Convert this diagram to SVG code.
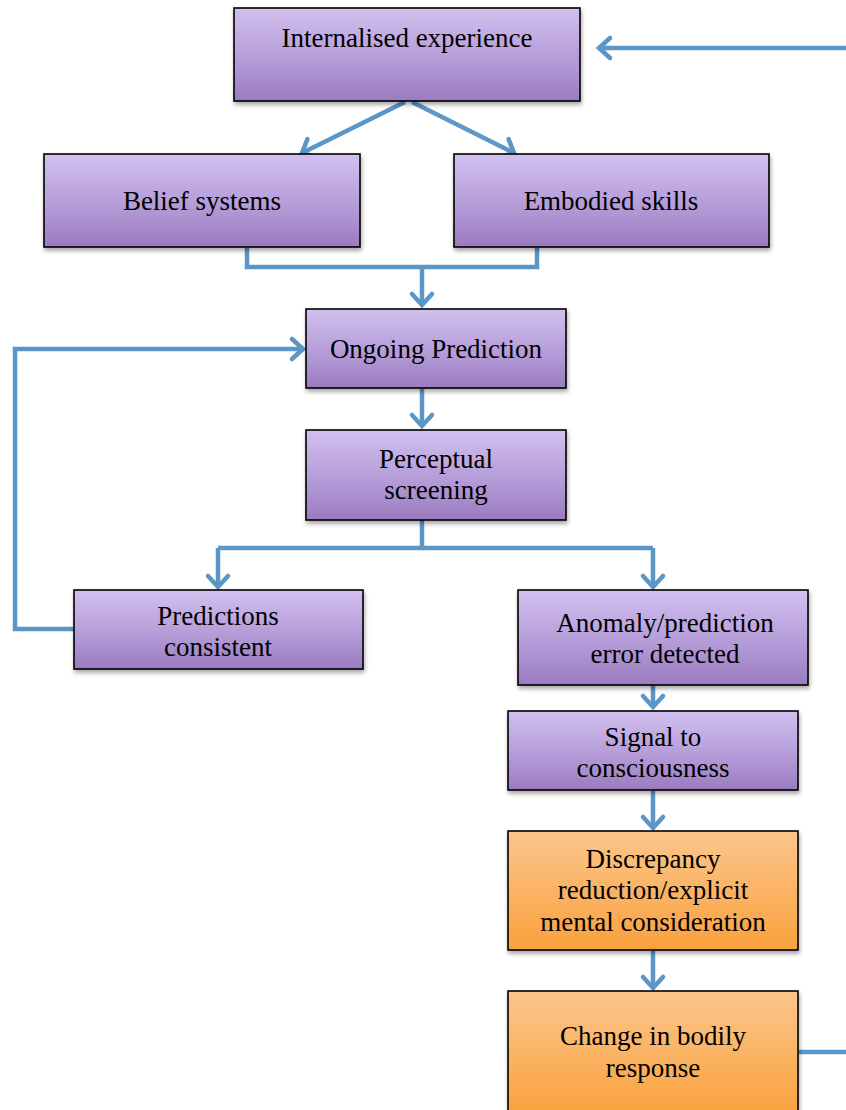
<svg xmlns="http://www.w3.org/2000/svg" width="846" height="1110" viewBox="0 0 846 1110">
<style>
.box{stroke:#000;stroke-width:1.6;filter:url(#sh)}
.p{fill:url(#gp)}
.o{fill:url(#go)}
.t{font-family:"Liberation Serif","Times New Roman",serif;font-size:27px;fill:#000;text-anchor:middle}
.c{fill:none;stroke:#5b96c8;stroke-width:4.5;stroke-linejoin:miter}
</style>
<defs>
<linearGradient id="gp" x1="0" y1="0" x2="0" y2="1">
<stop offset="0" stop-color="#d2c0ef"/>
<stop offset="0.6" stop-color="#b299d6"/>
<stop offset="1" stop-color="#9a7bbf"/>
</linearGradient>
<linearGradient id="go" x1="0" y1="0" x2="0" y2="1">
<stop offset="0" stop-color="#fcc68c"/>
<stop offset="1" stop-color="#f9a13c"/>
</linearGradient>
<filter id="sh" x="-5%" y="-5%" width="115%" height="125%">
<feDropShadow dx="1" dy="3" stdDeviation="2" flood-color="#000" flood-opacity="0.35"/>
</filter>
<marker id="ah" markerUnits="userSpaceOnUse" viewBox="-14 -12 18 24" markerWidth="18" markerHeight="24" refX="0" refY="0" orient="auto" overflow="visible">
<path d="M-11,-10 L0,0 L-11,10" fill="none" stroke="#5b96c8" stroke-width="4.5" stroke-linecap="round"/>
</marker>
</defs>

<g id="connectors">
<path class="c" d="M846,48 L599,48" marker-end="url(#ah)"/>
<path class="c" d="M405,102 L302,153" marker-end="url(#ah)"/>
<path class="c" d="M412,102 L514,153" marker-end="url(#ah)"/>
<path class="c" d="M247,248 L247,267 L537,267 L537,248"/>
<path class="c" d="M422,267 L422,305" marker-end="url(#ah)"/>
<path class="c" d="M422,389 L422,426" marker-end="url(#ah)"/>
<path class="c" d="M422,520 L422,548"/>
<path class="c" d="M218,548 L653,548"/>
<path class="c" d="M218,548 L218,587" marker-end="url(#ah)"/>
<path class="c" d="M653,548 L653,587" marker-end="url(#ah)"/>
<path class="c" d="M74,629 L15,629 L15,349 L303,349" marker-end="url(#ah)"/>
<path class="c" d="M653,670 L653,707" marker-end="url(#ah)"/>
<path class="c" d="M653,791 L653,828" marker-end="url(#ah)"/>
<path class="c" d="M653,951 L653,988" marker-end="url(#ah)"/>
<path class="c" d="M799,1052 L846,1052"/>
</g>

<g id="n1"><rect class="box p" x="234" y="8" width="346" height="93"/><text class="t" x="407" y="47">Internalised experience</text></g>
<g id="n2"><rect class="box p" x="44" y="154" width="316" height="93"/><text class="t" x="202" y="210">Belief systems</text></g>
<g id="n3"><rect class="box p" x="454" y="154" width="315" height="93"/><text class="t" x="611" y="210">Embodied skills</text></g>
<g id="n4"><rect class="box p" x="306" y="309" width="260" height="79"/><text class="t" x="436" y="358">Ongoing Prediction</text></g>
<g id="n5"><rect class="box p" x="306" y="430" width="260" height="90"/><text class="t" x="436" y="468">Perceptual</text><text class="t" x="436" y="499">screening</text></g>
<g id="n6"><rect class="box p" x="74" y="590" width="289" height="79"/><text class="t" x="218" y="625">Predictions</text><text class="t" x="218" y="656">consistent</text></g>
<g id="n7"><rect class="box p" x="518" y="590" width="290" height="95"/><text class="t" x="665" y="632">Anomaly/prediction</text><text class="t" x="665" y="663">error detected</text></g>
<g id="n8"><rect class="box p" x="508" y="711" width="290" height="79"/><text class="t" x="653" y="746">Signal to</text><text class="t" x="653" y="777">consciousness</text></g>
<g id="n9"><rect class="box o" x="508" y="831" width="290" height="119"/><text class="t" x="653" y="868">Discrepancy</text><text class="t" x="653" y="899">reduction/explicit</text><text class="t" x="653" y="931">mental consideration</text></g>
<g id="n10"><rect class="box o" x="508" y="991" width="290" height="125"/><text class="t" x="653" y="1045">Change in bodily</text><text class="t" x="653" y="1077">response</text></g>
</svg>
